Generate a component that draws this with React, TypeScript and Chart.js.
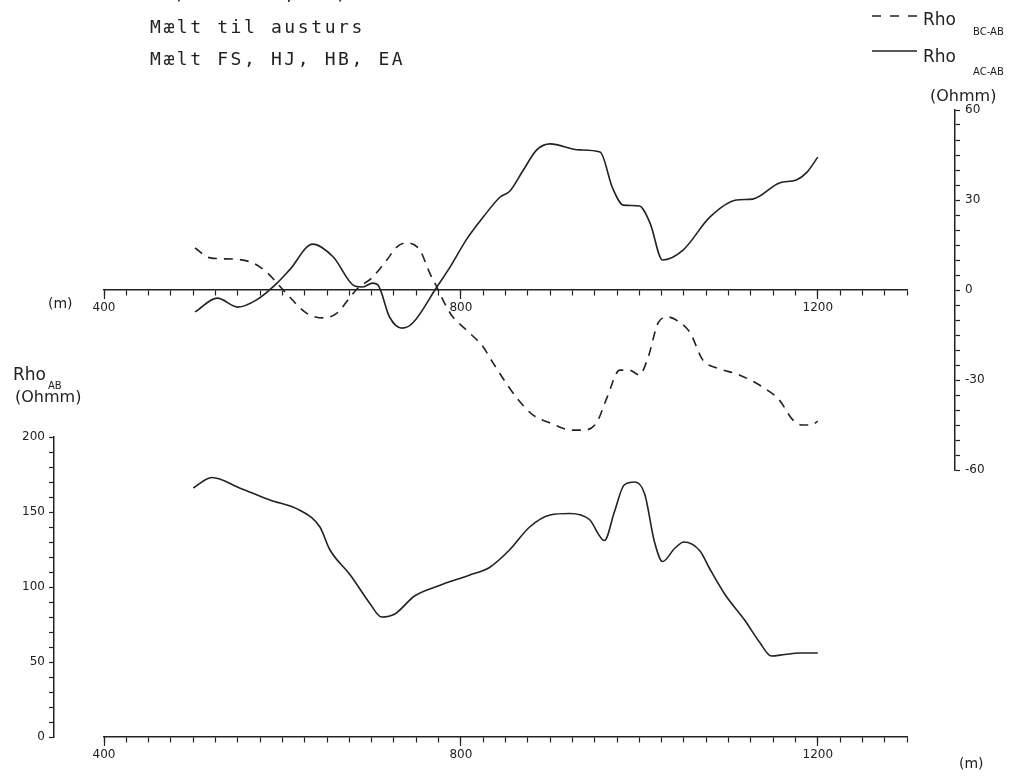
import React, { useEffect, useRef } from "react";
import { Chart, registerables } from "chart.js";

Chart.register(...registerables);

// ---------- text ----------
const titleLines = ["AB/2 300 m, MN/2 25 m", "Mælt til austurs", "Mælt FS, HJ, HB, EA"];
const legendLabels = ["Rho", "Rho"];
const legendSubs = ["BC-AB", "AC-AB"];
const unitLabel = "(Ohmm)";
const distLabel = "(m)";

// ---------- axes ----------
const xMin = 400;
const xMax = 1300;
const xMinorStep = 25;
const xMajorTicks = [400, 800, 1200];
const diffMin = -60;
const diffMax = 60;
const diffMinorStep = 5;
const diffMajorStep = 30;
const abMin = 0;
const abMax = 200;
const abMinorStep = 10;
const abMajorStep = 50;

// ---------- data ----------
const bcPositions = [502, 519, 545, 567, 582, 594, 608, 627, 646, 661, 676, 684, 700, 717, 728, 739, 754, 765, 773, 784, 791, 806, 825, 836, 862, 881, 900, 925, 937, 952, 964, 978, 989, 1000, 1010, 1021, 1032, 1045, 1057, 1071, 1087, 1112, 1138, 1157, 1172, 1183, 1193, 1200];
const rhoBcAb = [14, 10.7, 10.3, 9, 6, 2.3, -2.3, -7.7, -9.3, -7.7, -2.3, 0.5, 4, 10, 14.3, 15.7, 13.3, 5.7, 1, -5.7, -9, -13.3, -19, -24.3, -35.7, -41.7, -44.3, -46.7, -46.7, -44.3, -35.7, -26.7, -26.7, -28.3, -22.3, -11, -9, -10.7, -14.3, -23.3, -26, -28.3, -32.3, -36.7, -43.3, -45, -45, -43.7];

const acPositions = [502, 527, 550, 571, 594, 608, 634, 657, 681, 690, 701, 707, 720, 734, 746, 773, 788, 806, 825, 844, 855, 870, 885, 900, 933, 956, 970, 982, 1000, 1012, 1026, 1049, 1079, 1109, 1127, 1157, 1176, 1188, 1200];
const rhoAcAb = [-7.3, -2.7, -5.7, -3.3, 2.3, 6.7, 15.3, 11, 1.3, 1, 2.3, 1.7, -9, -12.7, -11, 1, 7.7, 16.7, 24.3, 31, 33, 40, 46.7, 48.7, 46.7, 46, 34, 28.3, 28, 22.3, 10, 13.3, 24.3, 30, 30.3, 35.7, 36.7, 39.3, 44.3];

const abPositions = [500, 521, 552, 586, 620, 642, 653, 676, 698, 711, 726, 748, 776, 810, 832, 855, 877, 900, 922, 944, 961, 972, 983, 995, 1006, 1017, 1026, 1040, 1050, 1068, 1079, 1096, 1118, 1135, 1148, 1163, 1180, 1200];
const rhoAb = [166, 173, 166, 158, 151, 140, 125, 108, 89, 80, 82, 94, 101, 108, 113, 125, 140, 148, 149, 145, 131, 150, 168, 170, 162, 130, 117, 126, 130, 124, 112, 95, 78, 63, 54, 55, 56, 56];

const ink = "#222222";
const sans = "'DejaVu Sans', sans-serif";

function pts(xs: number[], ys: number[]) {
  return xs.map((x, i) => ({ x, y: ys[i] }));
}

export default function App() {
  const topRef = useRef<HTMLCanvasElement>(null);
  const botRef = useRef<HTMLCanvasElement>(null);

  useEffect(() => {
    const font = { family: sans, size: 12 };
    const lineBase = {
      borderColor: ink,
      borderWidth: 1.6,
      pointRadius: 0,
      fill: false,
      cubicInterpolationMode: "monotone" as const,
    };
    const noLabel = () => "";
    const majorOnly = (step: number) => (v: any) => (Number(v) % step === 0 ? String(v) : "");

    const xMinorScale = (posAxis: string) => ({
      type: "linear" as const,
      axis: "x" as const,
      position: { [posAxis]: 0 },
      min: xMin,
      max: xMax,
      grid: { drawOnChartArea: false, color: ink, tickLength: 5, tickWidth: 1.2 },
      border: { color: ink, width: 1.5 },
      ticks: { stepSize: xMinorStep, autoSkip: false, maxRotation: 0, callback: noLabel, font, color: ink },
    });
    const xMajorScale = (posAxis: string) => ({
      type: "linear" as const,
      axis: "x" as const,
      position: { [posAxis]: 0 },
      min: xMin,
      max: xMax,
      grid: { drawOnChartArea: false, color: ink, tickLength: 9, tickWidth: 1.2 },
      border: { display: false },
      ticks: { autoSkip: false, maxRotation: 0, padding: 2, callback: (v: any) => String(v), font, color: ink },
      afterBuildTicks: (s: any) => {
        s.ticks = xMajorTicks.map((value) => ({ value }));
      },
    });
    const spacer = (pos: "left" | "right", w: number) => ({
      type: "linear" as const,
      axis: "y" as const,
      position: pos,
      weight: 0,
      grid: { display: false },
      border: { display: false },
      ticks: { display: false },
      afterFit: (s: any) => { s.width = w; },
    });

    const top = new Chart(topRef.current!, {
      type: "line",
      data: {
        datasets: [
          { ...lineBase, label: "Rho BC-AB", borderDash: [9, 7], data: pts(bcPositions, rhoBcAb), xAxisID: "x", yAxisID: "yR" },
          { ...lineBase, label: "Rho AC-AB", data: pts(acPositions, rhoAcAb), xAxisID: "x", yAxisID: "yR" },
        ],
      },
      options: {
        animation: false,
        responsive: false,
        events: [],
        layout: { padding: { left: 104, top: 110, right: 20, bottom: 306 } },
        plugins: { legend: { display: false }, tooltip: { enabled: false } },
        scales: {
          x: xMinorScale("yR"),
          xMaj: xMajorScale("yR"),
          ySp: spacer("right", 48),
          yR: {
            type: "linear",
            axis: "y",
            position: "right",
            weight: 1,
            min: diffMin,
            max: diffMax,
            grid: { drawOnChartArea: false, color: ink, tickLength: 5, tickWidth: 1.2 },
            border: { color: ink, width: 1.5 },
            ticks: { stepSize: diffMinorStep, autoSkip: false, padding: 5, callback: majorOnly(diffMajorStep), font, color: ink },
            afterFit: (s: any) => { s.width = 40; },
          },
        },
      } as any,
    });

    const bot = new Chart(botRef.current!, {
      type: "line",
      data: {
        datasets: [
          { ...lineBase, label: "Rho AB", data: pts(abPositions, rhoAb), xAxisID: "x", yAxisID: "yL" },
        ],
      },
      options: {
        animation: false,
        responsive: false,
        events: [],
        layout: { padding: { left: 4, top: 437, right: 108, bottom: 39 } },
        plugins: { legend: { display: false }, tooltip: { enabled: false } },
        scales: {
          x: xMinorScale("yL"),
          xMaj: xMajorScale("yL"),
          ySp: spacer("left", 50),
          yL: {
            type: "linear",
            axis: "y",
            position: "left",
            weight: 1,
            min: abMin,
            max: abMax,
            grid: { drawOnChartArea: false, color: ink, tickLength: 5, tickWidth: 1.2 },
            border: { color: ink, width: 1.5 },
            ticks: { stepSize: abMinorStep, autoSkip: false, padding: 4, callback: majorOnly(abMajorStep), font, color: ink },
            afterFit: (s: any) => { s.width = 50; },
          },
        },
      } as any,
    });

    return () => {
      top.destroy();
      bot.destroy();
    };
  }, []);

  const abs = (left: number, top: number, extra: React.CSSProperties = {}): React.CSSProperties => ({
    position: "absolute",
    left,
    top,
    whiteSpace: "pre",
    ...extra,
  });
  const big = { fontSize: 17, lineHeight: "17px" };
  const sub = { fontSize: 10, lineHeight: "10px" };
  const unit = { fontSize: 16, lineHeight: "16px" };

  return (
    <div style={{ position: "fixed", left: 0, top: 0, width: 1015, height: 776, overflow: "hidden", background: "#fff", color: ink, fontFamily: sans }}>
      <canvas ref={topRef} width={1015} height={776} style={{ position: "absolute", left: 0, top: 0 }} />
      <canvas ref={botRef} width={1015} height={776} style={{ position: "absolute", left: 0, top: 0 }} />

      {titleLines.map((t, i) => (
        <div key={i} style={abs(150, -15 + i * 32.5, { font: "18px 'DejaVu Sans Mono', monospace", lineHeight: "18px", letterSpacing: "2.6px" })}>{t}</div>
      ))}

      <svg width={60} height={70} style={{ position: "absolute", left: 865, top: 0 }}>
        <line x1={7} y1={16} x2={52} y2={16} stroke={ink} strokeWidth={1.5} strokeDasharray="9 9" />
        <line x1={7} y1={51} x2={52} y2={51} stroke={ink} strokeWidth={1.5} />
      </svg>
      <div style={abs(923, 10.5, big)}>{legendLabels[0]}</div>
      <div style={abs(973, 27, sub)}>{legendSubs[0]}</div>
      <div style={abs(923, 47.5, big)}>{legendLabels[1]}</div>
      <div style={abs(973, 67, sub)}>{legendSubs[1]}</div>
      <div style={abs(930, 88, unit)}>{unitLabel}</div>

      <div style={abs(48, 296, { fontSize: 14, lineHeight: "14px" })}>{distLabel}</div>
      <div style={abs(959, 756, { fontSize: 14, lineHeight: "14px" })}>{distLabel}</div>

      <div style={abs(13, 365.5, big)}>{"Rho"}</div>
      <div style={abs(48, 381, sub)}>{"AB"}</div>
      <div style={abs(15, 389, unit)}>{unitLabel}</div>
    </div>
  );
}
